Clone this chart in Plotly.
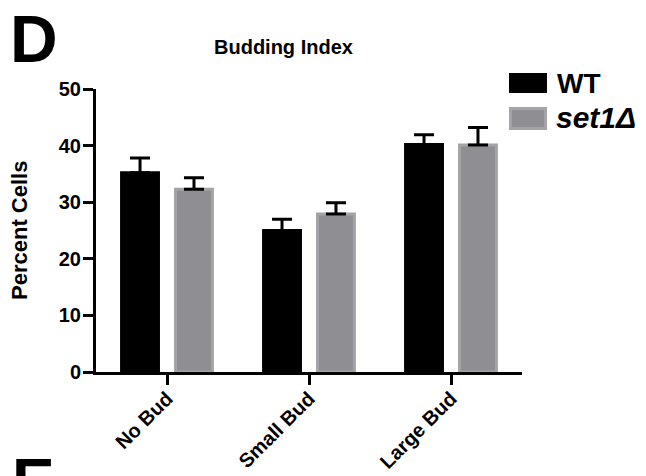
import plotly.graph_objects as go

# Budding index data (percent of cells)
categories = ["No Bud", "Small Bud", "Large Bud"]
wt_values = [35.2, 25.0, 40.2]
wt_errors = [2.6, 2.0, 1.7]
set1_values = [32.3, 27.9, 40.1]
set1_errors = [2.0, 2.0, 3.1]
series_names = ["WT", "<i>set1Δ</i>"]
y_ticks = [0, 10, 20, 30, 40, 50]

W, H = 646, 476
L, R, T, B = 96, 124, 89, 104
PW, PH = W - L - R, H - T - B

FONT = "Liberation Sans, Arial, Helvetica, sans-serif"
BLACK = "#000000"
GRAY_FILL = "#8f8e93"
GRAY_EDGE = "#a4a4a8"


def px(x):
    return (x - L) / PW


def py(y):
    return (H - B - y) / PH


fig = go.Figure()
fig.add_trace(go.Bar(
    x=categories, y=wt_values, name=series_names[0],
    marker=dict(color=BLACK, line=dict(color=BLACK, width=3)),
    error_y=dict(type="data", array=wt_errors, arrayminus=[0] * len(wt_errors),
                 symmetric=False, color=BLACK, thickness=3, width=10),
    showlegend=False,
))
fig.add_trace(go.Bar(
    x=categories, y=set1_values, name=series_names[1],
    marker=dict(color=GRAY_FILL, line=dict(color=GRAY_EDGE, width=3)),
    error_y=dict(type="data", array=set1_errors, arrayminus=[0] * len(set1_errors),
                 symmetric=False, color=BLACK, thickness=3, width=10),
    showlegend=False,
))

axis_common = dict(
    showline=True, linecolor=BLACK, linewidth=3,
    ticks="outside", ticklen=10, tickwidth=3, tickcolor=BLACK,
    showgrid=False, zeroline=False,
)

fig.update_layout(
    width=W, height=H,
    margin=dict(l=L, r=R, t=T, b=B, autoexpand=False),
    paper_bgcolor="white", plot_bgcolor="white",
    barmode="group", bargap=0.24, bargroupgap=0.316,
    xaxis=dict(type="category", range=[-0.5, 2.5], tickangle=-45, ticklabelstandoff=-6,
               tickfont=dict(family=FONT, size=20, color=BLACK, weight="bold"),
               **axis_common),
    yaxis=dict(range=[0, 50], tickvals=y_ticks, ticklabelstandoff=-2,
               tickfont=dict(family=FONT, size=20, color=BLACK, weight="bold"),
               **axis_common),
    showlegend=False,
)

# Custom legend swatches
fig.add_shape(type="rect", xref="paper", yref="paper",
              x0=px(509), x1=px(547), y0=py(93), y1=py(73),
              fillcolor=BLACK, line=dict(width=0))
fig.add_shape(type="rect", xref="paper", yref="paper",
              x0=px(510.5), x1=px(545.5), y0=py(128.5), y1=py(108.5),
              fillcolor=GRAY_FILL, line=dict(color=GRAY_EDGE, width=3))

annotations = [
    dict(text=series_names[0], x=px(555), y=py(83), xanchor="left", yanchor="middle",
         font=dict(family=FONT, size=28, color=BLACK, weight="bold")),
    dict(text=series_names[1], x=px(554), y=py(118), xanchor="left", yanchor="middle",
         font=dict(family=FONT, size=30, color=BLACK, weight="bold")),
    dict(text="Budding Index", x=px(283), y=py(47), xanchor="center", yanchor="middle",
         font=dict(family=FONT, size=20, color=BLACK, weight="bold")),
    dict(text="Percent Cells", x=px(19), y=py(231), xanchor="center", yanchor="middle",
         textangle=-90,
         font=dict(family=FONT, size=22, color=BLACK, weight="bold")),
    dict(text="D", x=px(8), y=py(39), xanchor="left", yanchor="middle",
         font=dict(family=FONT, size=66, color=BLACK, weight="bold")),
    dict(text="E", x=px(10), y=py(482), xanchor="left", yanchor="middle",
         font=dict(family=FONT, size=64, color=BLACK, weight="bold")),
]
for a in annotations:
    a.update(xref="paper", yref="paper", showarrow=False)
fig.update_layout(annotations=annotations)

fig.write_html("out.html")
